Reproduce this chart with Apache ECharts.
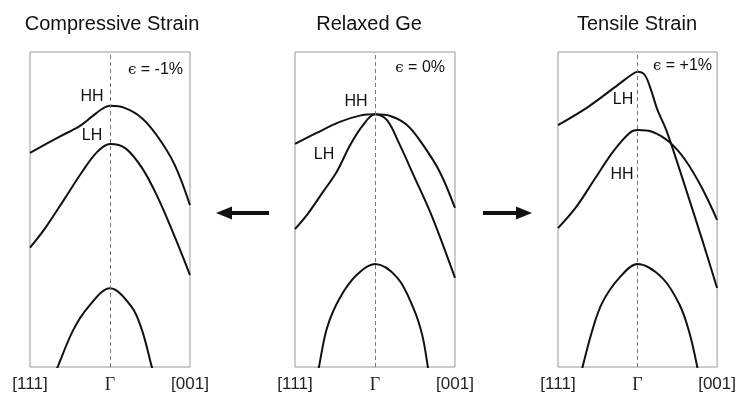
<!DOCTYPE html>
<html>
<head>
<meta charset="utf-8">
<script src="https://cdn.jsdelivr.net/npm/echarts@6/dist/echarts.min.js"></script>
<style>
html,body{margin:0;padding:0;background:#fff;}
#chart{width:739px;height:394px;}
</style>
</head>
<body>
<div id="chart"></div>
<script>
// Panel titles, strain labels, tick labels
const panelTitles = ['Compressive Strain', 'Relaxed Ge', 'Tensile Strain'];
const strainLabels = ['-1%', '0%', '+1%'];
const tickLabels = ['[111]', 'Γ', '[001]'];

// Band data: [k (−1 = [111], 0 = Γ, 1 = [001]), energy (arb. units, 0..100 window)]
// Compressive strain (ε = -1%)
const compHH = [[-1,68.0],[-0.64,73.0],[-0.38,76.5],[-0.23,79.4],[-0.10,81.9],[0,82.9],[0.19,82.2],[0.40,79.0],[0.60,73.0],[0.81,64.1],[1,51.4]];
const compLH = [[-1,37.9],[-0.81,44.1],[-0.56,53.7],[-0.35,61.9],[-0.16,68.3],[0,70.8],[0.19,69.5],[0.40,63.2],[0.60,53.7],[0.81,41.3],[1,29.2]];
const compSO = [[-0.82,-10],[-0.65,0.3],[-0.46,11.7],[-0.27,19.1],[0,25.0],[0.27,19.1],[0.40,11.7],[0.52,0.3],[0.63,-10]];
// Relaxed Ge (ε = 0%)
const relHH = [[-1,70.8],[-0.73,74.3],[-0.44,77.8],[-0.19,79.8],[0,80.2],[0.19,79.7],[0.40,76.8],[0.60,70.5],[0.81,61.9],[1,50.5]];
const relLH = [[-1,43.8],[-0.85,48.3],[-0.65,55.6],[-0.48,61.9],[-0.31,70.5],[-0.15,76.8],[0,80.2],[0.15,78.4],[0.31,70.5],[0.48,61.0],[0.69,49.2],[0.85,38.7],[1,28.3]];
const relSO = [[-0.78,-10],[-0.70,0.1],[-0.60,12.4],[-0.44,21.9],[-0.23,29.2],[0,32.7],[0.28,28.3],[0.48,18.7],[0.59,10.2],[0.66,0.1],[0.72,-10]];
// Tensile strain (ε = +1%)
const tenLH = [[-1,76.8],[-0.62,82.6],[-0.25,89.5],[-0.08,92.7],[0,93.7],[0.09,92.7],[0.17,87.9],[0.25,81.6],[0.35,75.9],[0.44,69.5],[0.60,57.1],[0.81,40.6],[1,25.1]];
const tenHH = [[-1,44.1],[-0.78,50.5],[-0.53,60.0],[-0.31,68.3],[-0.10,74.3],[0,75.2],[0.19,74.6],[0.40,71.4],[0.60,65.7],[0.81,56.8],[1,46.7]];
const tenSO = [[-0.78,-10],[-0.69,0.1],[-0.56,12.4],[-0.44,20.6],[-0.23,28.3],[0,32.7],[0.31,28.3],[0.53,19.7],[0.65,11.1],[0.75,0.1],[0.82,-10]];

const panels = [
  {bands: [compHH, compLH, compSO]},
  {bands: [relHH, relLH, relSO]},
  {bands: [tenLH, tenHH, tenSO]}
];

const gridLefts = [30, 295, 558];
const gridW = 160, gridTop = 52, gridH = 315;

const chart = echarts.init(document.getElementById('chart'), null, {renderer: 'canvas'});

const grids = [], xAxes = [], yAxes = [], series = [];
panels.forEach((p, i) => {
  grids.push({left: gridLefts[i], top: gridTop, width: gridW, height: gridH, show: true,
    borderColor: '#999', borderWidth: 1, backgroundColor: 'transparent', containLabel: false});
  xAxes.push({gridIndex: i, type: 'value', min: -1, max: 1, interval: 1,
    axisLine: {show: false}, axisTick: {show: false}, splitLine: {show: false},
    axisLabel: {show: true, margin: 9, color: '#222', fontSize: 17, fontFamily: 'Liberation Sans, Arial, sans-serif',
      showMinLabel: true, showMaxLabel: true,
      formatter: v => v === 0 ? '{g|' + tickLabels[1] + '}' : (v < 0 ? tickLabels[0] : tickLabels[2]),
      rich: {g: {fontFamily: 'Liberation Serif, DejaVu Serif, serif', fontSize: 18, color: '#222'}}}});
  yAxes.push({gridIndex: i, type: 'value', min: 0, max: 100, show: false});
  p.bands.forEach((b, j) => {
    const s = {type: 'line', xAxisIndex: i, yAxisIndex: i, data: b, smooth: 0.35,
      showSymbol: false, symbol: 'none', clip: true, silent: true,
      lineStyle: {color: '#111', width: 2}, z: 3};
    if (j === 0) {
      s.markLine = {silent: true, symbol: ['none', 'none'], label: {show: false},
        lineStyle: {color: '#777', type: [4, 3], width: 1}, data: [{xAxis: 0}], animation: false};
    }
    series.push(s);
  });
});

const txtFont = '16px Liberation Sans, Arial, sans-serif';
function label(text, x, y, align) {
  return {type: 'text', x: x, y: y, silent: true,
    style: {text: text, font: txtFont, fill: '#111', align: align || 'center', verticalAlign: 'middle'}};
}
function epsLabel(val, x, y) {
  return {type: 'text', x: x, y: y, silent: true,
    style: {text: '{e|ϵ} = ' + val, font: txtFont, fill: '#111', align: 'right', verticalAlign: 'middle',
      rich: {e: {fontFamily: 'DejaVu Serif, serif', fontSize: 15, fill: '#111'}}}};
}
function title(text, x) {
  return {type: 'text', x: x, y: 24, silent: true,
    style: {text: text, font: '20px Liberation Sans, Arial, sans-serif', fill: '#111', align: 'center', verticalAlign: 'middle'}};
}

const graphics = [
  title(panelTitles[0], 112), title(panelTitles[1], 369), title(panelTitles[2], 637),
  epsLabel(strainLabels[0], 183, 70), epsLabel(strainLabels[1], 445, 68), epsLabel(strainLabels[2], 712, 66),
  label('HH', 92, 97), label('LH', 92, 136),
  label('HH', 356, 102), label('LH', 324, 155),
  label('LH', 623, 100), label('HH', 622, 175),
  // left arrow
  {type: 'line', silent: true, shape: {x1: 269, y1: 213, x2: 228, y2: 213}, style: {stroke: '#111', lineWidth: 4}},
  {type: 'polygon', silent: true, shape: {points: [[216, 213], [232, 206.5], [232, 219.5]]}, style: {fill: '#111'}},
  // right arrow
  {type: 'line', silent: true, shape: {x1: 483, y1: 213, x2: 520, y2: 213}, style: {stroke: '#111', lineWidth: 4}},
  {type: 'polygon', silent: true, shape: {points: [[532, 213], [516, 206.5], [516, 219.5]]}, style: {fill: '#111'}}
];

chart.setOption({
  animation: false,
  backgroundColor: '#fff',
  grid: grids, xAxis: xAxes, yAxis: yAxes, series: series,
  graphic: graphics
});
</script>
</body>
</html>
